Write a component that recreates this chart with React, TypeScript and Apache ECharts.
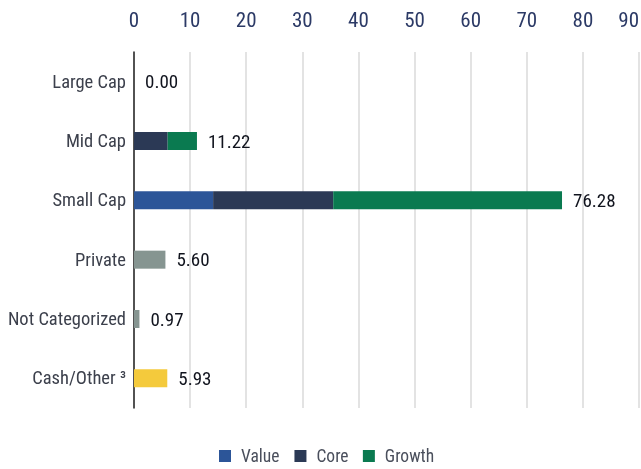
import React, { useEffect, useRef } from "react";
import * as echarts from "echarts";

const categories = ["Large Cap", "Mid Cap", "Small Cap", "Private", "Not Categorized", "Cash/Other ³"];
const valueData = [0, 0, 14.1, 0, 0, 0];
const coreData = [0, 6.0, 21.4, 0, 0, 0];
const growthData = [0, 5.22, 40.78, 0, 0, 0];
const otherData = [0, 0, 0, 5.6, 0.97, 5.93];
const otherColors = ["#869591", "#869591", "#869591", "#869591", "#869591", "#f4ca3c"];
const totals = [0.0, 11.22, 76.28, 5.6, 0.97, 5.93];
const xTicks = [0, 10, 20, 30, 40, 50, 60, 70, 80, 90];

const FONT = "Roboto, 'DejaVu Sans', sans-serif";
const LABEL_COLOR = "#10131d";

const css = `
#chartbox svg text { font-stretch: 75% !important; }
#chartbox svg text[fill="${LABEL_COLOR}"] { font-stretch: 87.5% !important; }
`;

export default function App() {
  const ref = useRef<HTMLDivElement>(null);
  useEffect(() => {
    if (!ref.current) return;
    const chart = echarts.init(ref.current, undefined, { renderer: "svg" });
    const barW = 18;
    chart.setOption({
      animation: false,
      grid: { left: 134, right: 2, top: 52, bottom: 61, containLabel: false, outerBoundsMode: "none" },
      legend: {
        data: ["Value", "Core", "Growth"],
        bottom: 4,
        left: 219,
        padding: 0,
        icon: "rect",
        itemWidth: 12,
        itemHeight: 12,
        itemGap: 10,
        textStyle: { fontFamily: FONT, fontSize: 17.5, color: "#4a4f5c", padding: [0, 0, 0, 5] },
      },
      xAxis: {
        type: "value",
        position: "top",
        min: xTicks[0],
        max: xTicks[xTicks.length - 1],
        interval: 10,
        axisLine: { show: false },
        axisTick: { show: false },
        splitLine: { show: true, lineStyle: { color: "#e3e3e3", width: 2 } },
        axisLabel: {
          fontFamily: FONT,
          fontSize: 21,
          color: "#2c3a66",
          margin: 22,
          alignMaxLabel: "right",
        },
      },
      yAxis: {
        type: "category",
        data: categories,
        inverse: true,
        axisLine: { show: true, lineStyle: { color: "#222", width: 1.5 } },
        axisTick: { show: false },
        axisLabel: { fontFamily: FONT, fontSize: 18.5, color: "#3c404c", margin: 8 },
      },
      series: [
        { name: "Value", type: "bar", stack: "s", barWidth: barW, data: valueData, itemStyle: { color: "#2c5598" } },
        { name: "Core", type: "bar", stack: "s", barWidth: barW, data: coreData, itemStyle: { color: "#2b3955" } },
        { name: "Growth", type: "bar", stack: "s", barWidth: barW, data: growthData, itemStyle: { color: "#0a7a50" } },
        {
          name: "Other",
          type: "bar",
          stack: "s",
          barWidth: barW,
          data: otherData.map((v, i) => ({ value: v, itemStyle: { color: otherColors[i] } })),
        },
        {
          name: "Total",
          type: "bar",
          stack: "s",
          barWidth: barW,
          data: totals.map(() => 0),
          itemStyle: { color: "transparent" },
          label: {
            show: true,
            position: "right",
            distance: 11,
            formatter: (p: any) => totals[p.dataIndex].toFixed(2),
            fontFamily: FONT,
            fontSize: 19,
            fontWeight: 400,
            color: LABEL_COLOR,
          },
        },
      ],
    });
    return () => chart.dispose();
  }, []);
  return (
    <>
      <style>{css}</style>
      <div id="chartbox" ref={ref} style={{ position: "fixed", left: 0, top: 0, width: 641, height: 469 }} />
    </>
  );
}
